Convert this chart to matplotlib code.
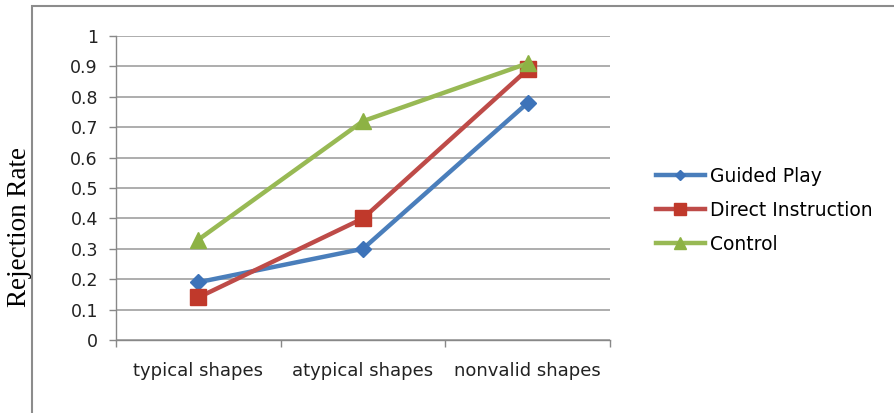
import matplotlib
matplotlib.use("Agg")
import matplotlib.pyplot as plt
from matplotlib.patches import Rectangle

categories = ["typical shapes", "atypical shapes", "nonvalid shapes"]
guided_play = [0.19, 0.30, 0.78]
direct_instruction = [0.14, 0.40, 0.89]
control = [0.33, 0.72, 0.91]
yticks = [0, 0.1, 0.2, 0.3, 0.4, 0.5, 0.6, 0.7, 0.8, 0.9, 1]
ytick_labels = ["0", "0.1", "0.2", "0.3", "0.4", "0.5", "0.6", "0.7", "0.8", "0.9", "1"]

plt.rcParams['font.family'] = ['DejaVu Sans']

fig = plt.figure(figsize=(8.94, 4.13), dpi=100)
fig.patches.append(Rectangle((32/894, -0.02), 1.0, 1 - 6/413 + 0.02, transform=fig.transFigure,
                             fill=False, edgecolor='#8c8c8c', linewidth=1.5))
ax = fig.add_axes([116/894, 1 - 340/413, (610 - 116)/894, (340 - 36)/413])

x = list(range(len(categories)))
ax.plot(x, guided_play, color='#4a7ebb', lw=3.2, marker='D', ms=8, mfc='#3d73b9', mec='#3d73b9', label='Guided Play', zorder=3)
ax.plot(x, direct_instruction, color='#be4b48', lw=3.2, marker='s', ms=12, mfc='#c0392b', mec='#c0392b', label='Direct Instruction', zorder=4)
ax.plot(x, control, color='#98b954', lw=3.2, marker='^', ms=12, mfc='#8db244', mec='#8db244', label='Control', zorder=5)

ax.set_xlim(-0.5, len(categories) - 0.5)
ax.set_ylim(0, 1)
ax.set_yticks(yticks)
ax.set_yticklabels(ytick_labels, fontsize=12.5, color='#222222')
ax.set_xticks(x)
ax.set_xticklabels(categories, fontsize=13, color='#222222')
ax.set_xticks([-0.5, 0.5, 1.5, 2.5], minor=True)
ax.tick_params(axis='x', which='major', length=0, pad=16)
ax.tick_params(axis='x', which='minor', length=5, color='#888888', width=1)
ax.tick_params(axis='y', length=5, color='#888888', width=1, pad=8)
ax.yaxis.grid(True, color='#a0a0a0', lw=1.2)
ax.set_axisbelow(True)
for s in ['top', 'right']:
    ax.spines[s].set_visible(False)
for s in ['left', 'bottom']:
    ax.spines[s].set_color('#888888')
    ax.spines[s].set_linewidth(1)

fig.text(20/894, 1 - 227/413, "Rejection Rate", rotation=90, va='center', ha='center',
         fontsize=19.5, family=['Liberation Serif'])

ax.legend(loc='center left', bbox_to_anchor=(639/894, 1 - 210/413), bbox_transform=fig.transFigure,
          frameon=False, fontsize=13.5, handlelength=2.6, labelspacing=0.8, handletextpad=0.3,
          markerscale=0.7)

fig.savefig("out.png", dpi=100)
